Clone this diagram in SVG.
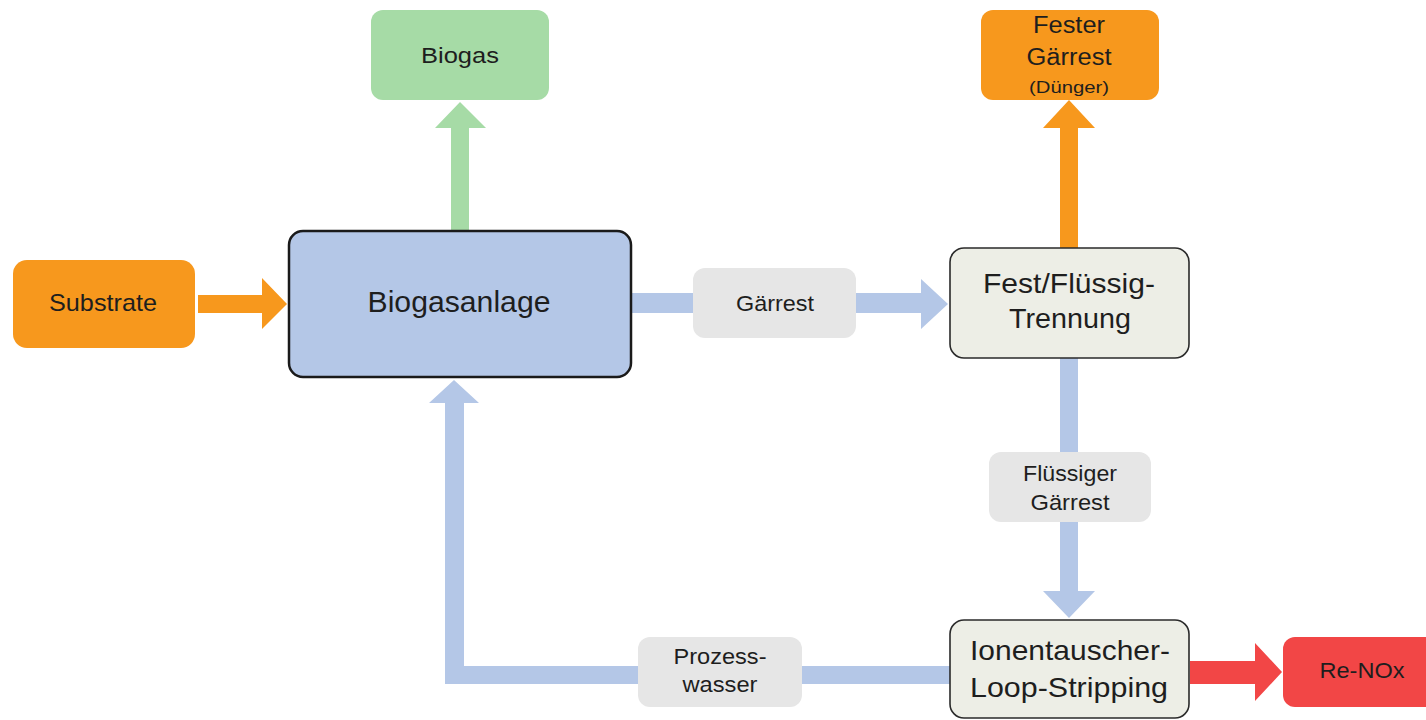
<svg xmlns="http://www.w3.org/2000/svg" width="1426" height="720" viewBox="0 0 1426 720">
  <style>
    text { font-family: "Liberation Sans", Arial, sans-serif; fill: #1e1e1e; text-anchor: middle; }
    .orange { fill: #F7981D; }
    .green { fill: #A6DBA6; }
    .blue { fill: #B4C7E7; }
    .red { fill: #F24646; }
    .label { fill: #E6E6E6; }
    .proc { fill: #EDEEE6; stroke: #2a2a2a; stroke-width: 1.6; }
    .main { fill: #B4C7E7; stroke: #1a1a1a; stroke-width: 2.5; }
  </style>
  <rect x="0" y="0" width="1426" height="720" fill="#ffffff"/>

  <g id="connectors">
    <!-- Substrate -> Biogasanlage -->
    <polygon class="orange" points="198,295 262,295 262,278 287,304 262,329 262,313 198,313"/>
    <!-- Biogasanlage -> Biogas -->
    <polygon class="green" points="451,230 451,128 435,128 460,102 486,128 469,128 469,230"/>
    <!-- Biogasanlage -> Gärrest label -->
    <rect class="blue" x="632" y="293" width="62" height="20"/>
    <!-- Gärrest label -> Fest/Flüssig -->
    <polygon class="blue" points="856,293 921,293 921,279 948,304 921,329 921,313 856,313"/>
    <!-- Fest/Flüssig -> Fester Gärrest -->
    <polygon class="orange" points="1060,248 1060,128 1043,128 1069,100 1095,128 1078,128 1078,248"/>
    <!-- Fest/Flüssig -> Flüssiger Gärrest label -->
    <rect class="blue" x="1060" y="358" width="18" height="96"/>
    <!-- label -> Ionentauscher -->
    <polygon class="blue" points="1060,520 1060,591 1043,591 1069,618 1095,591 1078,591 1078,520"/>
    <!-- Ionentauscher -> Re-NOx -->
    <polygon class="red" points="1190,661 1255,661 1255,643 1282,672 1255,701 1255,684 1190,684"/>
    <!-- Ionentauscher -> Prozesswasser label -->
    <rect class="blue" x="800" y="666" width="150" height="18"/>
    <!-- Prozesswasser -> Biogasanlage -->
    <polygon class="blue" points="640,666 464,666 464,403 479,403 454,380 429,403 445,403 445,684 640,684"/>

    <g id="label-gaerrest">
      <rect class="label" x="693" y="268" width="163" height="70" rx="12"/>
      <text x="775" y="311" font-size="22" textLength="78" lengthAdjust="spacingAndGlyphs">Gärrest</text>
    </g>
    <g id="label-fluessiger">
      <rect class="label" x="989" y="452" width="162" height="70" rx="12"/>
      <text x="1070" y="481" font-size="22" textLength="94" lengthAdjust="spacingAndGlyphs">Flüssiger</text>
      <text x="1070" y="510" font-size="22" textLength="79" lengthAdjust="spacingAndGlyphs">Gärrest</text>
    </g>
    <g id="label-prozesswasser">
      <rect class="label" x="638" y="637" width="164" height="70" rx="12"/>
      <text x="720" y="664" font-size="22" textLength="93" lengthAdjust="spacingAndGlyphs">Prozess-</text>
      <text x="720" y="692" font-size="22" textLength="75" lengthAdjust="spacingAndGlyphs">wasser</text>
    </g>
  </g>

  <g id="substrate">
    <rect class="orange" x="13" y="260" width="182" height="88" rx="14"/>
    <text x="103" y="311" font-size="24" textLength="108" lengthAdjust="spacingAndGlyphs">Substrate</text>
  </g>

  <g id="biogasanlage">
    <rect class="main" x="289" y="231" width="342" height="146" rx="14"/>
    <text x="459" y="312" font-size="29" textLength="183" lengthAdjust="spacingAndGlyphs">Biogasanlage</text>
  </g>

  <g id="biogas">
    <rect class="green" x="371" y="10" width="178" height="90" rx="12"/>
    <text x="460" y="63" font-size="22" textLength="78" lengthAdjust="spacingAndGlyphs">Biogas</text>
  </g>

  <g id="fest-fluessig">
    <rect class="proc" x="950" y="248" width="239" height="110" rx="14"/>
    <text x="1069" y="293" font-size="28" textLength="172" lengthAdjust="spacingAndGlyphs">Fest/Flüssig-</text>
    <text x="1070" y="328" font-size="28" textLength="122" lengthAdjust="spacingAndGlyphs">Trennung</text>
  </g>

  <g id="fester-gaerrest">
    <rect class="orange" x="981" y="10" width="178" height="90" rx="12"/>
    <text x="1069" y="33" font-size="23" textLength="72" lengthAdjust="spacingAndGlyphs">Fester</text>
    <text x="1069" y="65" font-size="23" textLength="85" lengthAdjust="spacingAndGlyphs">Gärrest</text>
    <text x="1069" y="93" font-size="17" textLength="80" lengthAdjust="spacingAndGlyphs">(Dünger)</text>
  </g>

  <g id="ionentauscher">
    <rect class="proc" x="950" y="620" width="239" height="98" rx="14"/>
    <text x="1070" y="660" font-size="28" textLength="200" lengthAdjust="spacingAndGlyphs">Ionentauscher-</text>
    <text x="1069" y="697" font-size="28" textLength="198" lengthAdjust="spacingAndGlyphs">Loop-Stripping</text>
  </g>

  <g id="re-nox">
    <rect class="red" x="1283" y="637" width="160" height="70" rx="12"/>
    <text x="1362" y="678" font-size="22" textLength="85" lengthAdjust="spacingAndGlyphs">Re-NOx</text>
  </g>
</svg>
